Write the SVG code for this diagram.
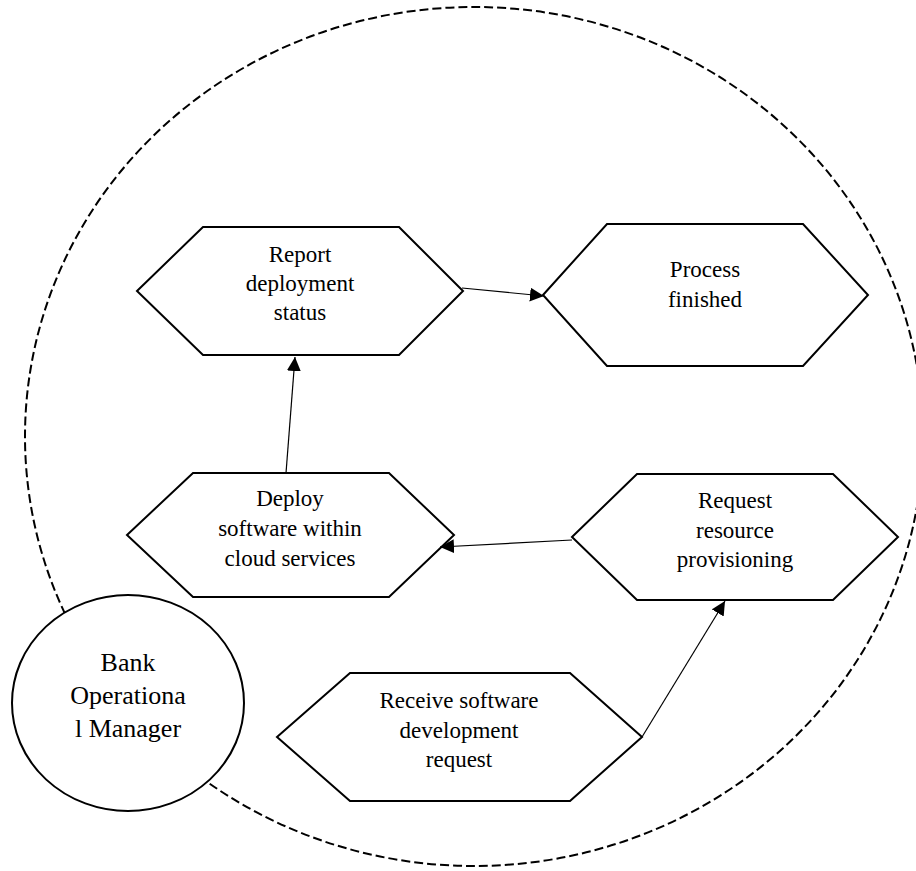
<svg xmlns="http://www.w3.org/2000/svg" width="916" height="871" viewBox="0 0 916 871">
  <style>
    .hex { fill: #ffffff; stroke: #000000; stroke-width: 2; stroke-linejoin: miter; }
    .label { font-family: "Liberation Serif", "Times New Roman", serif; font-size: 23px; fill: #000000; text-anchor: middle; }
    .actor-label { font-family: "Liberation Serif", "Times New Roman", serif; font-size: 26px; fill: #000000; text-anchor: middle; }
    .edge { stroke: #000000; stroke-width: 1.2; fill: none; marker-end: url(#arrow); }
    .boundary { fill: none; stroke: #000000; stroke-width: 2; stroke-dasharray: 9 4; }
  </style>
  <defs>
    <marker id="arrow" markerUnits="userSpaceOnUse" markerWidth="15" markerHeight="15" refX="14" refY="7" orient="auto">
      <path d="M0,0 L14,7 L0,14 z" fill="#000000"/>
    </marker>
  </defs>

  <rect width="916" height="871" fill="#ffffff"/>

  <!-- system boundary -->
  <ellipse id="boundary" class="boundary" cx="474" cy="436.5" rx="449" ry="429.5"/>

  <!-- activities -->
  <g id="report-status">
    <polygon class="hex" points="137,291 203,227 399,227 463,291 399,355 203,355"/>
    <text class="label" x="300" y="262">Report</text>
    <text class="label" x="300" y="291">deployment</text>
    <text class="label" x="300" y="320">status</text>
  </g>

  <g id="process-finished">
    <polygon class="hex" points="543,295 607,224 803,224 868,295 803,366 607,366"/>
    <text class="label" x="705" y="277">Process</text>
    <text class="label" x="705" y="307">finished</text>
  </g>

  <g id="deploy-software">
    <polygon class="hex" points="127,535 193,473 389,473 454,535 389,597 193,597"/>
    <text class="label" x="290" y="506">Deploy</text>
    <text class="label" x="290" y="536">software within</text>
    <text class="label" x="290" y="566">cloud services</text>
  </g>

  <g id="request-resources">
    <polygon class="hex" points="572,537 637,474 833,474 898,537 833,600 637,600"/>
    <text class="label" x="735" y="508">Request</text>
    <text class="label" x="735" y="538">resource</text>
    <text class="label" x="735" y="567">provisioning</text>
  </g>

  <g id="receive-request">
    <polygon class="hex" points="277,737 350,673 570,673 642,737 570,801 350,801"/>
    <text class="label" x="459" y="708">Receive software</text>
    <text class="label" x="459" y="738">development</text>
    <text class="label" x="459" y="767">request</text>
  </g>

  <!-- flow between activities -->
  <g id="connectors">
    <line class="edge" x1="642" y1="737" x2="725" y2="601"/>
    <line class="edge" x1="572" y1="540" x2="440" y2="547"/>
    <line class="edge" x1="286" y1="473" x2="295" y2="357"/>
    <line class="edge" x1="462" y1="288" x2="544" y2="296"/>
  </g>

  <!-- actor -->
  <g id="bank-manager">
    <ellipse cx="128" cy="703" rx="116" ry="108" fill="#ffffff" stroke="#000000" stroke-width="2"/>
    <text class="actor-label" x="128" y="671">Bank</text>
    <text class="actor-label" x="128" y="704">Operationa</text>
    <text class="actor-label" x="128" y="737">l Manager</text>
  </g>
</svg>
